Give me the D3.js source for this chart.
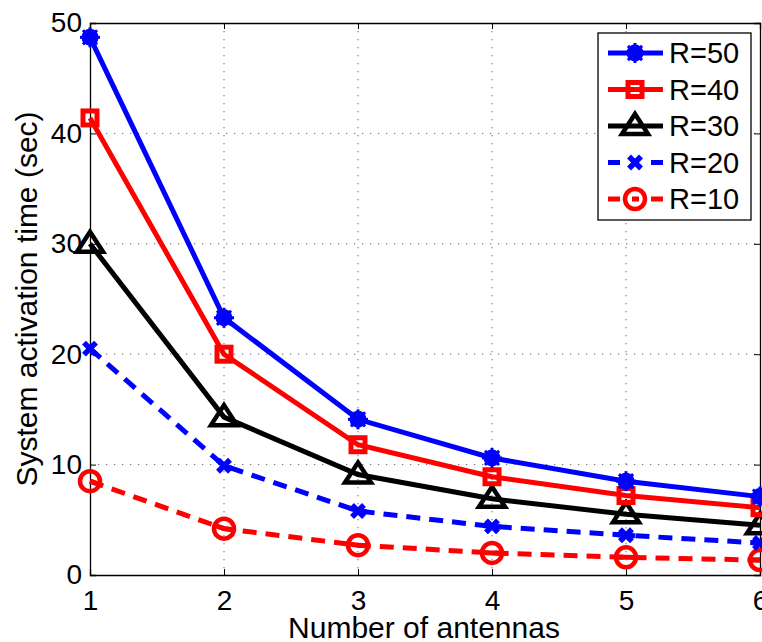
<!DOCTYPE html>
<html>
<head>
<meta charset="utf-8">
<script src="https://cdn.jsdelivr.net/npm/d3@7"></script>
<style>
  body { margin: 0; background: #fff; }
  text { font-family: "Liberation Sans", Arial, sans-serif; fill: #000; }
</style>
</head>
<body>
<svg id="chart" width="762" height="642"></svg>
<script>
var antennas = [1, 2, 3, 4, 5, 6];
var yTicks = [0, 10, 20, 30, 40, 50];
var seriesNames = ["R=50", "R=40", "R=30", "R=20", "R=10"];
var r50 = [48.7, 23.3, 14.1, 10.6, 8.5, 7.1];
var r40 = [41.4, 20.0, 11.8, 8.9, 7.2, 6.1];
var r30 = [30.0, 14.3, 9.1, 6.9, 5.5, 4.5];
var r20 = [20.5, 9.9, 5.8, 4.4, 3.6, 2.9];
var r10 = [8.5, 4.2, 2.7, 2.0, 1.6, 1.35];

var series = [
    { name: seriesNames[0], values: r50, color: "#0000ff", dash: null, marker: "star" },
    { name: seriesNames[1], values: r40, color: "#ff0000", dash: null, marker: "square" },
    { name: seriesNames[2], values: r30, color: "#000000", dash: null, marker: "triangle" },
    { name: seriesNames[3], values: r20, color: "#0000ff", dash: "14,9", marker: "cross" },
    { name: seriesNames[4], values: r10, color: "#ff0000", dash: "14,9", marker: "circle" }
];

var svg = d3.select("#chart");
// note: "top" clashes with window.top, so use plot* names
var plotLeft = 90, plotRight = 760, plotTop = 23, plotBottom = 575;

var x = d3.scaleLinear().domain([1, 6]).range([plotLeft, plotRight]);
var y = d3.scaleLinear().domain([0, 50]).range([plotBottom, plotTop]);

// dotted grid
var grid = svg.append("g").attr("class", "grid")
    .attr("stroke", "#666").attr("stroke-width", 1).attr("stroke-dasharray", "1.3,6.7");
grid.selectAll("line.gx")
    .data(antennas.slice(1, -1))
    .enter().append("line")
        .attr("class", "gx")
        .attr("x1", function(d) { return x(d); }).attr("x2", function(d) { return x(d); })
        .attr("y1", plotTop).attr("y2", plotBottom);
grid.selectAll("line.gy")
    .data(yTicks.slice(1, -1))
    .enter().append("line")
        .attr("class", "gy")
        .attr("y1", function(d) { return y(d); }).attr("y2", function(d) { return y(d); })
        .attr("x1", plotLeft).attr("x2", plotRight);

// axes, ticks pointing inward like matlab
svg.append("g")
    .attr("transform", "translate(0," + plotBottom + ")")
    .call(d3.axisBottom(x).tickValues(antennas).tickSize(-6).tickPadding(15).tickFormat(d3.format("d")))
    .call(function(g) {
        g.select(".domain").attr("stroke-width", 1.3);
        g.selectAll("text").attr("font-size", 28).attr("font-family", "Liberation Sans, Arial, sans-serif");
    });
svg.append("g")
    .attr("transform", "translate(" + plotLeft + ",0)")
    .call(d3.axisLeft(y).tickValues(yTicks).tickSize(-6).tickPadding(8))
    .call(function(g) {
        g.select(".domain").attr("stroke-width", 1.3);
        g.selectAll("text").attr("font-size", 28).attr("font-family", "Liberation Sans, Arial, sans-serif");
    });
svg.append("g")
    .attr("transform", "translate(0," + plotTop + ")")
    .call(d3.axisTop(x).tickValues(antennas).tickSize(-6).tickFormat(""))
    .select(".domain").attr("stroke-width", 1.3);
svg.append("g")
    .attr("transform", "translate(" + plotRight + ",0)")
    .call(d3.axisRight(y).tickValues(yTicks).tickSize(-6).tickFormat(""))
    .select(".domain").attr("stroke-width", 1.3);

// axis titles
svg.append("text")
    .attr("x", 424)
    .attr("y", 638)
    .attr("text-anchor", "middle")
    .attr("font-size", 30)
    .text("Number of antennas");
svg.append("text")
    .attr("transform", "translate(37," + ((plotTop + plotBottom) / 2) + ") rotate(-90)")
    .attr("text-anchor", "middle")
    .attr("font-size", 30)
    .text("System activation time (sec)");

var drawMarker = function(g, kind, color) {
    if (kind === "star") {
        g.append("circle").attr("r", 8.5).attr("fill", color);
        [0, 45, 90, 135].forEach(function(a) {
            g.append("line")
                .attr("x1", -10).attr("x2", 10).attr("y1", 0).attr("y2", 0)
                .attr("stroke", color).attr("stroke-width", 3)
                .attr("transform", "rotate(" + a + ")");
        });
    } else if (kind === "square") {
        g.append("rect").attr("x", -7).attr("y", -7).attr("width", 14).attr("height", 14)
            .attr("fill", "none").attr("stroke", color).attr("stroke-width", 5);
    } else if (kind === "triangle") {
        g.append("path").attr("d", "M0,-12L13,8L-13,8Z")
            .attr("fill", "none").attr("stroke", color).attr("stroke-width", 4.5)
            .attr("stroke-linejoin", "miter");
    } else if (kind === "cross") {
        g.append("path").attr("d", "M-6,-6L6,6M-6,6L6,-6")
            .attr("fill", "none").attr("stroke", color).attr("stroke-width", 5.5);
    } else if (kind === "circle") {
        g.append("circle").attr("r", 10)
            .attr("fill", "none").attr("stroke", color).attr("stroke-width", 4.5);
    }
};

var line = d3.line()
    .x(function(d, i) { return x(antennas[i]); })
    .y(function(d) { return y(d); });

// short solid pieces of the line right at each vertex (the dashes always show through the markers)
var stubs = function(values) {
    var pts = values.map(function(v, i) { return [x(antennas[i]), y(v)]; });
    return pts.map(function(p, i) {
        var segs = [];
        [i - 1, i + 1].forEach(function(j) {
            if (j < 0 || j >= pts.length) return;
            var dx = pts[j][0] - p[0], dy = pts[j][1] - p[1];
            var len = Math.sqrt(dx * dx + dy * dy);
            segs.push([p, [p[0] + dx / len * 9, p[1] + dy / len * 9]]);
        });
        return segs;
    });
};

var lines = svg.append("g").attr("class", "series");
series.slice().reverse().forEach(function(s) {
    var g = lines.append("g");
    g.append("path")
        .datum(s.values)
        .attr("d", line)
        .attr("fill", "none")
        .attr("stroke", s.color)
        .attr("stroke-width", 5)
        .attr("stroke-dasharray", s.dash);
    if (s.dash) {
        g.selectAll("path.stub")
            .data(d3.merge(stubs(s.values)))
            .enter().append("path")
                .attr("class", "stub")
                .attr("d", function(d) { return "M" + d[0] + "L" + d[1]; })
                .attr("stroke", s.color)
                .attr("stroke-width", 5);
    }
    g.selectAll("g.mk")
        .data(s.values)
        .enter().append("g")
            .attr("class", "mk")
            .attr("transform", function(d, i) { return "translate(" + x(antennas[i]) + "," + y(d) + ")"; })
            .each(function() { drawMarker(d3.select(this), s.marker, s.color); });
});

// legend
var legend = svg.append("g").attr("class", "legend").attr("transform", "translate(598,33)");
legend.append("rect")
    .attr("width", 153).attr("height", 187)
    .attr("fill", "#fff").attr("stroke", "#000").attr("stroke-width", 1.3);
var rows = legend.selectAll("g.row")
    .data(series)
    .enter().append("g")
        .attr("class", "row")
        .attr("transform", function(d, i) { return "translate(0," + (20 + i * 36.5) + ")"; });
rows.append("line")
    .attr("x1", 10).attr("x2", 65).attr("y1", 0).attr("y2", 0)
    .attr("stroke", function(d) { return d.color; })
    .attr("stroke-width", 5)
    .attr("stroke-dasharray", function(d) { return d.dash ? "12,12,7,12,12" : null; });
rows.append("g")
    .attr("transform", "translate(37,0)")
    .each(function(d) { drawMarker(d3.select(this), d.marker, d.color); });
rows.append("text")
    .attr("x", 71).attr("y", 10)
    .attr("font-size", 29)
    .text(function(d) { return d.name; });
</script>
</body>
</html>
